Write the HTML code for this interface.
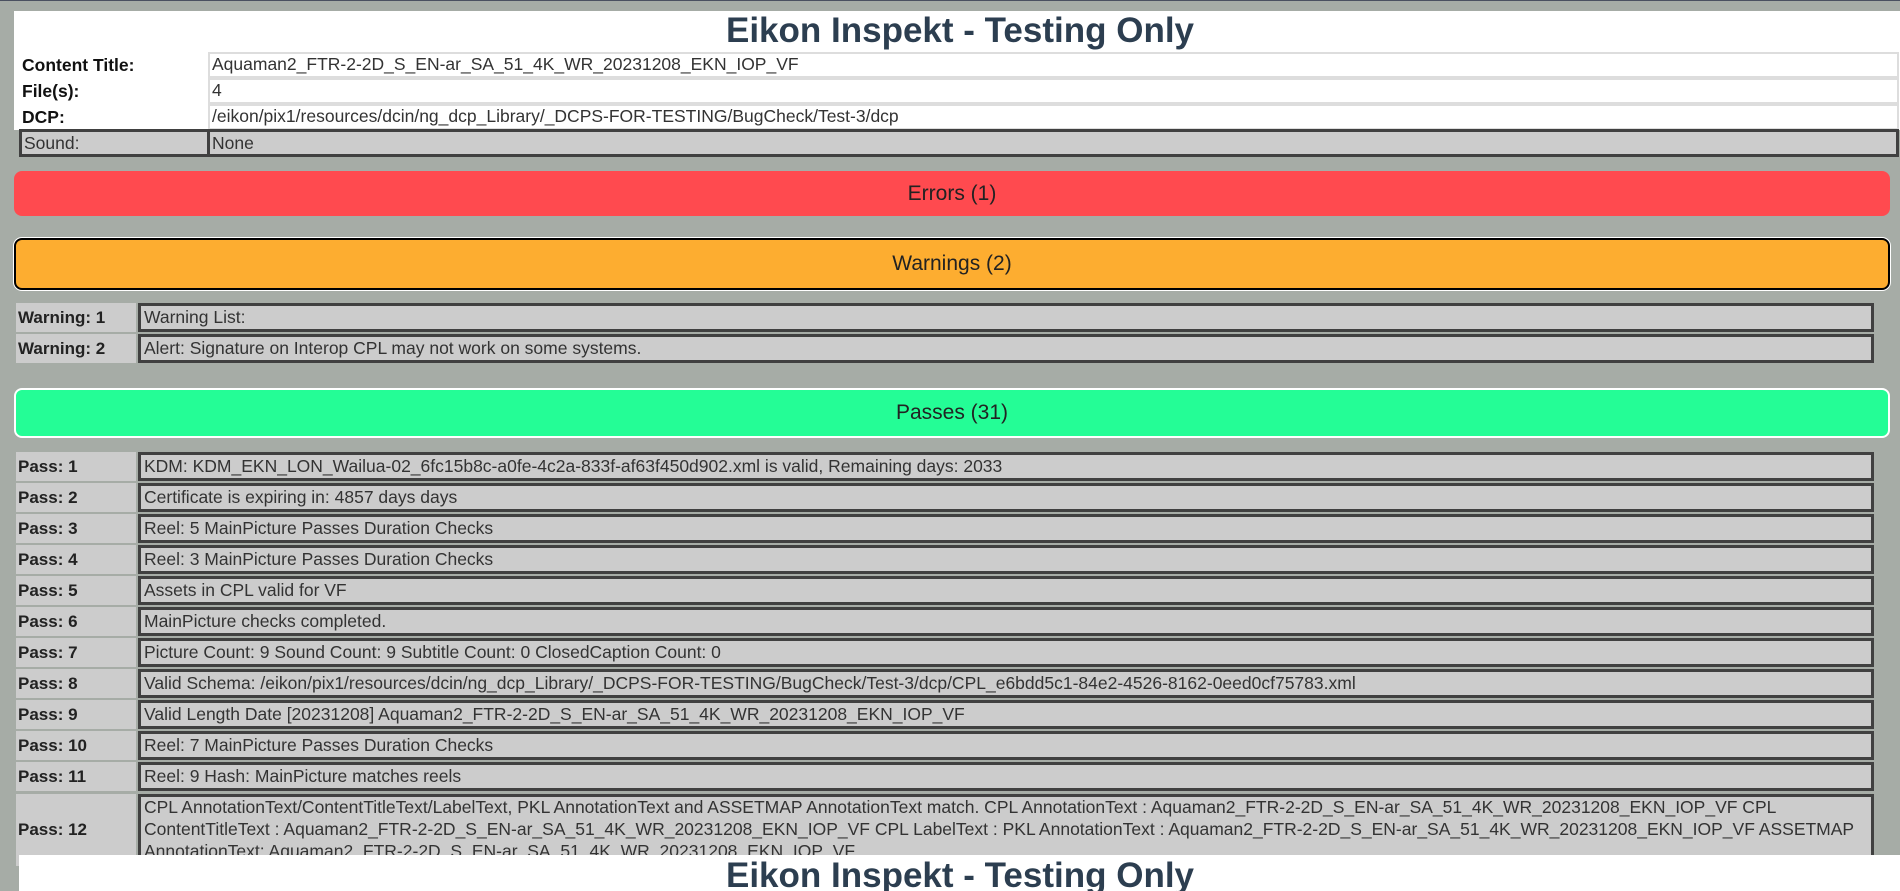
<!DOCTYPE html>
<html><head><meta charset="utf-8"><style>
*{box-sizing:border-box;margin:0;padding:0}
body{width:1900px;height:890px;overflow:hidden;background:#a6aca6;font-family:"Liberation Sans",Arial,sans-serif;color:#333;position:relative;border-top:1px solid #4a5060}
.a{position:absolute}
.title{font-weight:bold;font-size:35px;color:#2c3e50;text-align:center;width:100%}
.hl{position:absolute;left:16px;width:190px;font-weight:bold;font-size:17.5px;color:#111;padding-left:6px;line-height:24px}
.hv{position:absolute;left:208px;width:1691px;border:2px solid #ddd;background:#fff;font-size:17.5px;line-height:21px;padding-left:2px;color:#333}
.bar{position:absolute;left:14px;width:1876px;border-radius:8px;text-align:center;font-size:21px;color:#222}
.rl{position:absolute;left:16px;width:120px;background:#ccc;font-weight:bold;font-size:17px;padding-left:2px;color:#222}
.rv{position:absolute;left:138px;width:1736px;background:#ccc;border:3px solid #404040;font-size:17.5px;padding-left:3px;color:#333;overflow:hidden}
</style></head><body>
<div class="a" style="left:14px;top:10px;width:1886px;height:119px;background:#fff"></div>
<div class="a title" style="top:10px;left:10px;line-height:40px">Eikon Inspekt - Testing Only</div>
<div class="hl" style="top:52px">Content Title:</div>
<div class="hv" style="top:51px;height:26px">Aquaman2_FTR-2-2D_S_EN-ar_SA_51_4K_WR_20231208_EKN_IOP_VF</div>
<div class="hl" style="top:78px">File(s):</div>
<div class="hv" style="top:77px;height:26px">4</div>
<div class="hl" style="top:104px">DCP:</div>
<div class="hv" style="top:103px;height:26px">/eikon/pix1/resources/dcin/ng_dcp_Library/_DCPS-FOR-TESTING/BugCheck/Test-3/dcp</div>
<div class="a" style="left:19px;top:128px;width:190px;height:28px;background:#ccc;border:3px solid #404040;border-right:2px solid #404040;font-size:17.5px;line-height:22px;padding-left:2px">Sound:</div>
<div class="a" style="left:209px;top:128px;width:1690px;height:28px;background:#ccc;border:3px solid #404040;border-left:1px solid #404040;font-size:17.5px;line-height:22px;padding-left:2px">None</div>

<div class="bar" style="top:170px;height:45px;background:#ff4a4f;line-height:45px">Errors (1)</div>
<div class="bar" style="top:237px;height:52px;background:#fdad30;border:2px solid #000;box-shadow:0 0 0 1px #fff;line-height:48px">Warnings (2)</div>

<div class="rl" style="top:302px;height:29px;line-height:29px">Warning: 1</div>
<div class="rv" style="top:302px;height:29px;line-height:23px">Warning List:</div>
<div class="rl" style="top:333px;height:29px;line-height:29px">Warning: 2</div>
<div class="rv" style="top:333px;height:29px;line-height:23px">Alert: Signature on Interop CPL may not work on some systems.</div>

<div class="bar" style="top:387px;height:50px;background:#24fd96;border:2px solid #fff;line-height:46px">Passes (31)</div>

<div class="rl" style="top:451px;height:29px;line-height:29px">Pass: 1</div><div class="rv" style="top:451px;height:29px;line-height:23px">KDM: KDM_EKN_LON_Wailua-02_6fc15b8c-a0fe-4c2a-833f-af63f450d902.xml is valid, Remaining days: 2033</div>
<div class="rl" style="top:482px;height:29px;line-height:29px">Pass: 2</div><div class="rv" style="top:482px;height:29px;line-height:23px">Certificate is expiring in: 4857 days days</div>
<div class="rl" style="top:513px;height:29px;line-height:29px">Pass: 3</div><div class="rv" style="top:513px;height:29px;line-height:23px">Reel: 5 MainPicture Passes Duration Checks</div>
<div class="rl" style="top:544px;height:29px;line-height:29px">Pass: 4</div><div class="rv" style="top:544px;height:29px;line-height:23px">Reel: 3 MainPicture Passes Duration Checks</div>
<div class="rl" style="top:575px;height:29px;line-height:29px">Pass: 5</div><div class="rv" style="top:575px;height:29px;line-height:23px">Assets in CPL valid for VF</div>
<div class="rl" style="top:606px;height:29px;line-height:29px">Pass: 6</div><div class="rv" style="top:606px;height:29px;line-height:23px">MainPicture checks completed.</div>
<div class="rl" style="top:637px;height:29px;line-height:29px">Pass: 7</div><div class="rv" style="top:637px;height:29px;line-height:23px">Picture Count: 9 Sound Count: 9 Subtitle Count: 0 ClosedCaption Count: 0</div>
<div class="rl" style="top:668px;height:29px;line-height:29px">Pass: 8</div><div class="rv" style="top:668px;height:29px;line-height:23px">Valid Schema: /eikon/pix1/resources/dcin/ng_dcp_Library/_DCPS-FOR-TESTING/BugCheck/Test-3/dcp/CPL_e6bdd5c1-84e2-4526-8162-0eed0cf75783.xml</div>
<div class="rl" style="top:699px;height:29px;line-height:29px">Pass: 9</div><div class="rv" style="top:699px;height:29px;line-height:23px">Valid Length Date [20231208] Aquaman2_FTR-2-2D_S_EN-ar_SA_51_4K_WR_20231208_EKN_IOP_VF</div>
<div class="rl" style="top:730px;height:29px;line-height:29px">Pass: 10</div><div class="rv" style="top:730px;height:29px;line-height:23px">Reel: 7 MainPicture Passes Duration Checks</div>
<div class="rl" style="top:761px;height:29px;line-height:29px">Pass: 11</div><div class="rv" style="top:761px;height:29px;line-height:23px">Reel: 9 Hash: MainPicture matches reels</div>
<div class="rl" style="top:793px;height:72px;line-height:72px">Pass: 12</div><div class="rv" style="top:793px;height:72px;line-height:21.8px;padding-top:0;white-space:nowrap">CPL AnnotationText/ContentTitleText/LabelText, PKL AnnotationText and ASSETMAP AnnotationText match. CPL AnnotationText : Aquaman2_FTR-2-2D_S_EN-ar_SA_51_4K_WR_20231208_EKN_IOP_VF CPL<br>ContentTitleText : Aquaman2_FTR-2-2D_S_EN-ar_SA_51_4K_WR_20231208_EKN_IOP_VF CPL LabelText : PKL AnnotationText : Aquaman2_FTR-2-2D_S_EN-ar_SA_51_4K_WR_20231208_EKN_IOP_VF ASSETMAP<br>AnnotationText: Aquaman2_FTR-2-2D_S_EN-ar_SA_51_4K_WR_20231208_EKN_IOP_VF</div>

<div class="a" style="left:19px;top:854px;width:1881px;height:36px;background:#fff;overflow:hidden">
<div class="title" style="line-height:42px;margin-left:-9px;width:1900px">Eikon Inspekt - Testing Only</div></div>
</body></html>
